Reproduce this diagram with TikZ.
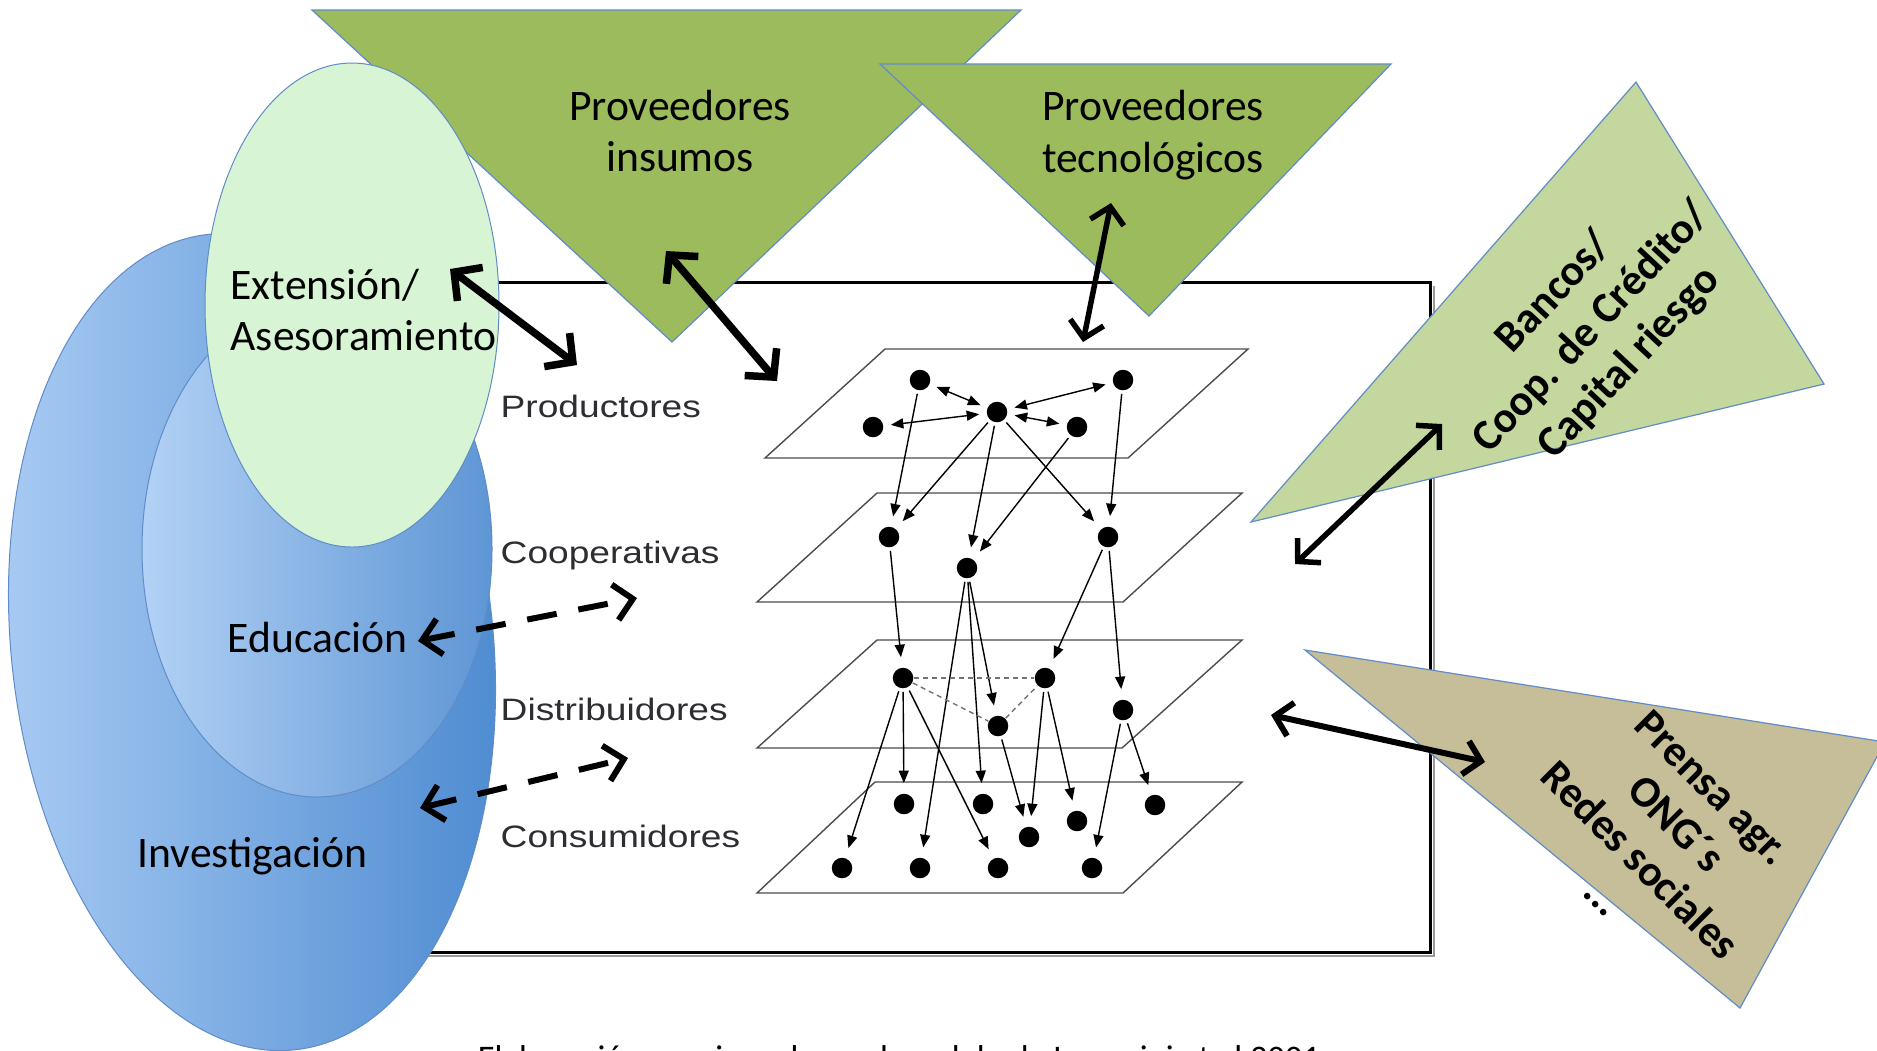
\documentclass[tikz,border=0pt]{standalone}
\usepackage{fontspec}
\setmainfont{Carlito}
\newfontfamily\layerfont{Liberation Sans}
\usetikzlibrary{arrows.meta}

\definecolor{supplygreen}{RGB}{156,187,92}
\definecolor{creditgreen}{RGB}{196,215,158}
\definecolor{mediatan}{RGB}{197,190,152}
\definecolor{advicemint}{RGB}{215,245,213}
\definecolor{outlineblue}{RGB}{96,140,200}
\definecolor{bluelight}{RGB}{170,204,244}
\definecolor{bluedark}{RGB}{76,138,208}
\definecolor{layerink}{RGB}{45,45,50}

\tikzset{
  tri/.style={draw=outlineblue, line width=0.012cm, line join=miter},
  bigtext/.style={font=\fontsize{12.4}{14.6}\selectfont, inner sep=0pt, text=black},
  boldtext/.style={font=\bfseries\fontsize{12.4}{14.6}\selectfont, inner sep=0pt, align=center},
  layer/.style={font=\layerfont\fontsize{8.8}{10}\selectfont, text=layerink, inner sep=0pt, anchor=base west},
  plane/.style={draw=black!70, line width=0.014cm, line join=miter},
  dot/.style={circle, fill=black, inner sep=0pt, minimum size=0.205cm},
  link/.style={line width=0.014cm, -{Triangle[length=0.125cm,width=0.1cm]}, shorten >=0.1cm, shorten <=0.03cm},
  mutual/.style={line width=0.014cm, {Triangle[length=0.125cm,width=0.1cm]}-{Triangle[length=0.125cm,width=0.1cm]}, shorten >=0.07cm, shorten <=0.07cm},
  peer/.style={draw=black!55, line width=0.014cm, dash pattern=on 0.05cm off 0.04cm},
  bigarrow/.style={line width=0.075cm, {Straight Barb[length=0.2cm,width=0.42cm]}-{Straight Barb[length=0.2cm,width=0.42cm]}},
  midarrow/.style={line width=0.055cm, {Straight Barb[length=0.16cm,width=0.34cm]}-{Straight Barb[length=0.16cm,width=0.34cm]}},
  dasharrow/.style={line width=0.06cm, dash pattern=on 0.3cm off 0.22cm, {Straight Barb[length=0.18cm,width=0.36cm]}-{Straight Barb[length=0.18cm,width=0.36cm]}},
}

\begin{document}
\begin{tikzpicture}[x=0.01cm, y=-0.01cm]
\useasboundingbox (0,0) rectangle (1877,1050);
\clip (0,0) rectangle (1877,1050);
\fill[white] (0,0) rectangle (1877,1050);

% frame of the netchain
\draw[black!40, line width=0.02cm] (421,956) -- (1434,956) -- (1434,286);
\draw[black, line width=0.03cm] (417,282) rectangle (1430,952);

% four layers
\draw[plane] (885,349) -- (1248,349) -- (1128,458) -- (765,458) -- cycle;
\draw[plane] (877,493) -- (1242,493) -- (1123,602) -- (757,602) -- cycle;
\draw[plane] (877,640) -- (1242,640) -- (1122,748) -- (757,748) -- cycle;
\draw[plane] (875,782) -- (1242,782) -- (1123,893) -- (757,893) -- cycle;

% actors
\node[dot] (pa) at (920,380) {};
\node[dot] (pb) at (1123,380) {};
\node[dot] (pc) at (997,412) {};
\node[dot] (pd) at (873,427) {};
\node[dot] (pe) at (1077,427) {};
\node[dot] (c1) at (889,537) {};
\node[dot] (c2) at (967,568) {};
\node[dot] (c3) at (1108,537) {};
\node[dot] (d1) at (903,678) {};
\node[dot] (d2) at (1045,678) {};
\node[dot] (d3) at (998,726) {};
\node[dot] (d4) at (1123,710) {};
\node[dot] (k1) at (904,804) {};
\node[dot] (k2) at (983,804) {};
\node[dot] (k3) at (1077,821) {};
\node[dot] (k4) at (1155,805) {};
\node[dot] (k5) at (1029,837) {};
\node[dot] (k6) at (842,868) {};
\node[dot] (k7) at (920,868) {};
\node[dot] (k8) at (998,868) {};
\node[dot] (k9) at (1092,868) {};

% ties among producers
\draw[mutual] (pc) -- (pa);
\draw[mutual] (pc) -- (pb);
\draw[mutual] (pc) -- (pd);
\draw[mutual] (pc) -- (pe);
% producers to cooperatives
\draw[link] (pa) -- (c1);
\draw[link] (pc) -- (c1);
\draw[link] (pc) -- (c2);
\draw[link] (pe) -- (c2);
\draw[link] (pc) -- (c3);
\draw[link] (pb) -- (c3);
% cooperatives onwards
\draw[link] (c1) -- (d1);
\draw[link] (c3) -- (d2);
\draw[link] (c3) -- (d4);
\draw[link] (c2) -- (d3);
\draw[link] (c2) -- (k2);
\draw[link] (c2) -- (k7);
% distributors to consumers
\draw[link] (d1) -- (k6);
\draw[link] (d1) -- (k1);
\draw[link] (d1) -- (k8);
\draw[link] (d3) -- (k5);
\draw[link] (d2) -- (k5);
\draw[link] (d2) -- (k3);
\draw[link] (d4) -- (k9);
\draw[link] (d4) -- (k4);
% horizontal ties among distributors
\draw[peer] (d1) -- (d2);
\draw[peer] (d1) -- (d3);
\draw[peer] (d3) -- (d2);

% layer names
\node[layer] (lp) at (500,417) {\scalebox{1.2}[1]{Productores}};
\node[layer] (lc) at (500,563) {\scalebox{1.2}[1]{Cooperativas}};
\node[layer] (ld) at (500,720) {\scalebox{1.2}[1]{Distribuidores}};
\node[layer] (lk) at (500,847) {\scalebox{1.2}[1]{Consumidores}};

% suppliers and finance / media wedges
\path[tri, fill=supplygreen] (312,10) -- (1021,10) -- (672,342) -- cycle;
\path[tri, fill=supplygreen] (880,64) -- (1391,64) -- (1149,316) -- cycle;
\path[tri, fill=creditgreen] (1636,82) -- (1824,384) -- (1251,522) -- cycle;
\path[tri, fill=mediatan] (1305,650) -- (1885,742) -- (1740,1008) -- cycle;

% knowledge system
\path[draw=outlineblue, line width=0.01cm, left color=bluelight, right color=bluedark,
      rotate around={6:(252,642)}] (252,642) ellipse [x radius=241, y radius=410];
\path[draw=outlineblue, line width=0.01cm, left color=bluelight!90!white, right color=bluedark!90!white]
      (317,549) ellipse [x radius=175, y radius=248];
\path[draw=outlineblue, line width=0.01cm, fill=advicemint] (352,305) ellipse [x radius=147, y radius=242];

% texts
\node[bigtext, align=center] (ins) at (680,131) {Proveedores\\insumos};
\node[bigtext, align=center] (tec) at (1153,135) {Proveedores\\tecnológicos};
\node[bigtext, align=left, anchor=west] (ext) at (230,310) {Extensión/\\Asesoramiento};
\node[bigtext, anchor=base west] (edu) at (227,652) {Educación};
\node[bigtext, anchor=base west] (inv) at (137,867) {Investigación};
\node[boldtext, rotate=47] (ban) at (1592,328) {Bancos/\\Coop. de Crédito/\\Capital riesgo};
\node[boldtext, rotate=-45] (pre) at (1658,842) {Prensa agr.\\ONG´s\\Redes sociales\\...};
\node[font=\fontsize{9.8}{11}\selectfont, anchor=base, inner sep=0pt] (cap) at (899,1069)
      {Elaboración propia en base al modelo de Lazzarini et al 2001};

% exchanges with the netchain
\coordinate (extA) at (450,269);  \coordinate (extB) at (577,365);
\coordinate (insA) at (666,251);  \coordinate (insB) at (777,381);
\coordinate (tecA) at (1111,203); \coordinate (tecB) at (1083,342);
\coordinate (banA) at (1442,424); \coordinate (banB) at (1295,564);
\coordinate (preA) at (1271,715); \coordinate (preB) at (1485,762);
\coordinate (eduA) at (418,641);  \coordinate (eduB) at (637,598);
\coordinate (invA) at (420,808);  \coordinate (invB) at (628,758);

\draw[bigarrow] (extA) -- (extB);
\draw[bigarrow] (insA) -- (insB);
\draw[midarrow] (tecA) -- (tecB);
\draw[midarrow] (banA) -- (banB);
\draw[midarrow, line width=0.06cm] (preA) -- (preB);
\draw[dasharrow] (eduA) -- (eduB);
\draw[dasharrow] (invA) -- (invB);
\end{tikzpicture}
\end{document}
